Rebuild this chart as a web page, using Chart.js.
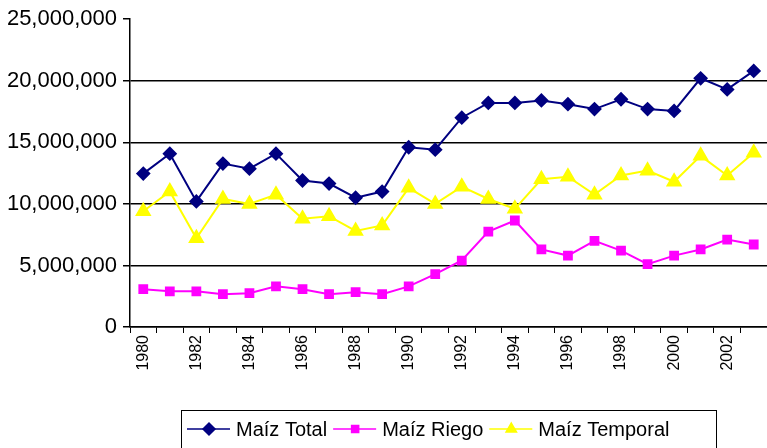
<!DOCTYPE html>
<html>
<head>
<meta charset="utf-8">
<script src="https://cdn.jsdelivr.net/npm/chart.js@4.4.1/dist/chart.umd.min.js"></script>
<style>
  html, body { margin: 0; padding: 0; background: #fff; }
  #wrap { width: 767px; height: 448px; position: relative; }
</style>
</head>
<body>
<div id="wrap"><canvas id="maizChart" width="767" height="448"></canvas></div>
<script>
// --- DATA ---
const years = ['1980','1981','1982','1983','1984','1985','1986','1987','1988','1989','1990','1991',
               '1992','1993','1994','1995','1996','1997','1998','1999','2000','2001','2002','2003'];
const maizTotal = [12460000, 14080000, 10200000, 13270000, 12860000, 14080000, 11900000, 11650000,
                   10500000, 11000000, 14600000, 14400000, 17000000, 18200000, 18200000, 18400000,
                   18100000, 17700000, 18500000, 17700000, 17550000, 20200000, 19300000, 20800000];
const maizRiego = [3070000, 2900000, 2900000, 2670000, 2750000, 3300000, 3070000, 2670000,
                   2830000, 2670000, 3300000, 4300000, 5400000, 7750000, 8650000, 6300000,
                   5800000, 7000000, 6200000, 5100000, 5800000, 6300000, 7100000, 6700000];
const maizTemporal = [9400000, 11000000, 7200000, 10400000, 10000000, 10750000, 8800000, 9000000,
                      7800000, 8250000, 11300000, 10000000, 11400000, 10400000, 9600000, 12000000,
                      12200000, 10750000, 12300000, 12700000, 11800000, 13900000, 12300000, 14150000];
const yTicks = [0, 5000000, 10000000, 15000000, 20000000, 25000000];

const FONT = 'Liberation Sans, Arial, sans-serif';

// --- LEGEND PLUGIN (line + marker, boxed, like the spreadsheet original) ---
const boxLegend = {
    id: 'boxLegend',
    afterDraw(chart) {
        const ctx = chart.ctx;
        const left = 181, top = 410, right = 716, bottom = 452;
        ctx.save();
        ctx.strokeStyle = '#000';
        ctx.lineWidth = 1;
        ctx.strokeRect(left + 0.5, top + 0.5, right - left, bottom - top);
        ctx.font = '20px ' + FONT;
        ctx.textBaseline = 'middle';
        let x = 187;
        const y = 429;
        chart.data.datasets.forEach(ds => {
            ctx.strokeStyle = ds.borderColor;
            ctx.lineWidth = 1.5;
            ctx.beginPath();
            ctx.moveTo(x, y);
            ctx.lineTo(x + 43, y);
            ctx.stroke();
            ctx.fillStyle = ds.pointBackgroundColor;
            ctx.strokeStyle = ds.borderColor;
            Chart.helpers.drawPoint(ctx, {
                pointStyle: ds.pointStyle,
                radius: ds.legendRadius,
                rotation: 0,
                borderWidth: 1
            }, x + 22, y);
            ctx.fillStyle = '#000';
            ctx.fillText(ds.label, x + 49, y + 1);
            x += 49 + ctx.measureText(ds.label).width + 6;
        });
        ctx.restore();
    }
};

new Chart(document.getElementById('maizChart'), {
    type: 'line',
    data: {
        labels: years,
        datasets: [
            {
                label: 'Maíz Total',
                data: maizTotal,
                borderColor: '#000080',
                backgroundColor: '#000080',
                pointBackgroundColor: '#000080',
                pointBorderColor: '#000080',
                pointStyle: 'rectRot',
                pointRadius: 6,
                legendRadius: 6,
                borderWidth: 2
            },
            {
                label: 'Maíz Riego',
                data: maizRiego,
                borderColor: '#FF00FF',
                backgroundColor: '#FF00FF',
                pointBackgroundColor: '#FF00FF',
                pointBorderColor: '#FF00FF',
                pointStyle: 'rect',
                pointRadius: 5.5,
                legendRadius: 5,
                borderWidth: 2
            },
            {
                label: 'Maíz Temporal',
                data: maizTemporal,
                borderColor: '#FFFF00',
                backgroundColor: '#FFFF00',
                pointBackgroundColor: '#FFFF00',
                pointBorderColor: '#FFFF00',
                pointStyle: 'triangle',
                pointRadius: 7.5,
                legendRadius: 6,
                borderWidth: 2
            }
        ]
    },
    options: {
        responsive: false,
        animation: false,
        layout: { autoPadding: false, padding: { top: 18, right: 0, left: 0, bottom: 0 } },
        plugins: {
            legend: { display: false },
            tooltip: { enabled: false }
        },
        scales: {
            x: {
                offset: true,
                border: { color: '#000', width: 1.5 },
                grid: {
                    offset: true,
                    drawOnChartArea: false,
                    drawTicks: true,
                    tickLength: 6,
                    color: '#000'
                },
                ticks: {
                    autoSkip: false,
                    minRotation: 90,
                    maxRotation: 90,
                    padding: 2,
                    color: '#000',
                    font: { family: FONT, size: 16 },
                    callback: function(value, index) {
                        return index % 2 === 0 ? years[index] : '';
                    }
                },
                afterFit: scale => {
                    scale.height = 121;
                    scale.paddingRight = 0;
                    scale.paddingLeft = 0;
                }
            },
            y: {
                min: 0,
                max: 25000000,
                border: { color: '#000', width: 1.5 },
                afterBuildTicks: scale => { scale.ticks = yTicks.map(v => ({ value: v })); },
                grid: {
                    color: ctx => (ctx.tick && ctx.tick.value === 25000000) ? 'rgba(0,0,0,0)' : '#000',
                    lineWidth: 1.5,
                    drawTicks: true,
                    tickLength: 7,
                    tickColor: '#000'
                },
                ticks: {
                    padding: 6,
                    color: '#000',
                    font: { family: FONT, size: 22 },
                    callback: v => v.toLocaleString('en-US')
                },
                afterFit: scale => { scale.width = 130; }
            }
        }
    },
    plugins: [boxLegend]
});
</script>
</body>
</html>
